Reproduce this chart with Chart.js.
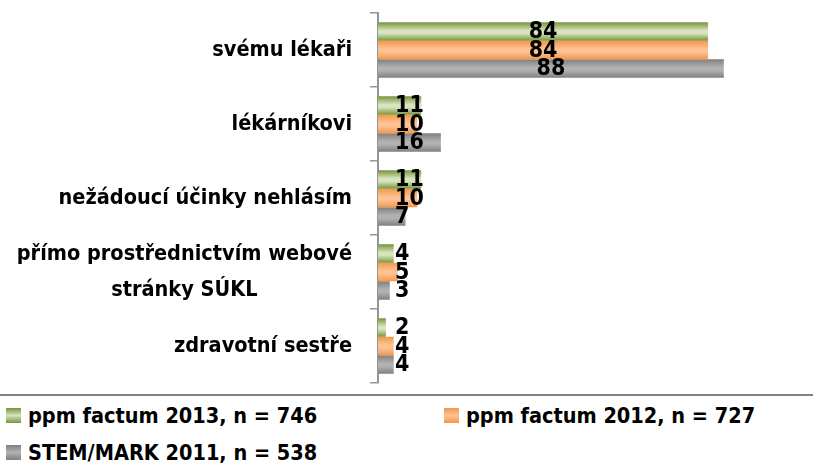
<!DOCTYPE html>
<html>
<head>
<meta charset="utf-8">
<script src="https://cdn.jsdelivr.net/npm/chart.js@4/dist/chart.umd.min.js"></script>
<style>
    body { margin: 0; background: #fff; }
    #wrap { width: 813px; height: 464px; position: relative; overflow: hidden; }
    #chartBox { width: 813px; height: 394px; position: relative; }
    #legend {
        border-top: 2px solid #7f7f7f;
        display: grid;
        grid-template-columns: 438px auto;
        row-gap: 13px;
        padding: 7px 0 0 6px;
        font-family: 'DejaVu Sans Condensed', 'DejaVu Sans', sans-serif;
        font-weight: bold;
        font-size: 21.5px;
        color: #000;
    }
    .item { display: flex; align-items: center; height: 24px; white-space: nowrap; }
    .swatch { width: 15px; height: 15px; margin-right: 7px; }
</style>
</head>
<body>
<div id="wrap">
    <div id="chartBox"><canvas id="chart"></canvas></div>
    <div id="legend"></div>
</div>
<script>
const categories = [
    ['svému lékaři'],
    ['lékárníkovi'],
    ['nežádoucí účinky nehlásím'],
    ['přímo prostřednictvím webové', 'stránky SÚKL'],
    ['zdravotní sestře']
];
const seriesNames = ['ppm factum 2013, n = 746', 'ppm factum 2012, n = 727', 'STEM/MARK 2011, n = 538'];
const values2013 = [84, 11, 11, 4, 2];
const values2012 = [84, 10, 10, 5, 4];
const values2011 = [88, 16, 7, 3, 4];

const labelFont = "bold 21.5px 'DejaVu Sans Condensed', 'DejaVu Sans', sans-serif";
const valueFont = "bold 23px 'DejaVu Sans Condensed', 'DejaVu Sans', sans-serif";

// edge / middle colours of the bar gradients
const fills = [
    ['#77933c', '#d7e4bd'],
    ['#f79646', '#fbc396'],
    ['#7f7f7f', '#b2b2b2']
];

function barGradient(ctx, top, height, pair) {
    const g = ctx.createLinearGradient(0, top, 0, top + height);
    g.addColorStop(0, pair[0]);
    g.addColorStop(0.45, pair[1]);
    g.addColorStop(0.6, pair[1]);
    g.addColorStop(1, pair[0]);
    return g;
}

// bars share one options object, so give each bar its own with its gradient
const gradientBars = {
    id: 'gradientBars',
    beforeDatasetsDraw(chart) {
        const ctx = chart.ctx;
        chart.data.datasets.forEach((ds, i) => {
            chart.getDatasetMeta(i).data.forEach(el => {
                const g = barGradient(ctx, el.y - el.height / 2, el.height, fills[i]);
                el.options = Object.assign({}, el.options, { backgroundColor: g });
            });
        });
    }
};

const valueLabels = {
    id: 'valueLabels',
    afterDatasetsDraw(chart) {
        const ctx = chart.ctx;
        ctx.save();
        ctx.font = valueFont;
        ctx.fillStyle = '#000';
        ctx.textBaseline = 'middle';
        ctx.textAlign = 'left';
        chart.data.datasets.forEach((ds, i) => {
            chart.getDatasetMeta(i).data.forEach((el, j) => {
                const text = String(ds.data[j]);
                const w = ctx.measureText(text).width;
                const left = Math.max((el.base + el.x) / 2 - w / 2, el.base + 17);
                ctx.fillText(text, left, el.y + 1);
            });
        });
        ctx.restore();
    }
};

// category labels: block right aligned, lines centred inside the block
const categoryLabels = {
    id: 'categoryLabels',
    afterDraw(chart) {
        const ctx = chart.ctx;
        const scale = chart.scales.y;
        const right = chart.chartArea.left - 26;
        const lineH = 36;
        ctx.save();
        ctx.font = labelFont;
        ctx.fillStyle = '#000';
        ctx.textBaseline = 'middle';
        ctx.textAlign = 'center';
        categories.forEach((lines, i) => {
            const y = scale.getPixelForTick(i);
            const widest = Math.max(...lines.map(l => ctx.measureText(l).width));
            const cx = right - widest / 2;
            const y0 = y - (lines.length - 1) * lineH / 2;
            lines.forEach((l, k) => ctx.fillText(l, cx, y0 + k * lineH));
        });
        ctx.restore();
    }
};

const chart = new Chart(document.getElementById('chart'), {
    type: 'bar',
    data: {
        labels: categories.map(c => c.join(' ')),
        datasets: [
            { label: seriesNames[0], data: values2013, backgroundColor: fills[0][0] },
            { label: seriesNames[1], data: values2012, backgroundColor: fills[1][0] },
            { label: seriesNames[2], data: values2011, backgroundColor: fills[2][0] }
        ]
    },
    options: {
        indexAxis: 'y',
        responsive: true,
        maintainAspectRatio: false,
        animation: false,
        datasets: {
            bar: { barPercentage: 1, categoryPercentage: 0.75, borderWidth: 0 }
        },
        layout: { padding: { top: 13, right: 42, bottom: 11, left: 0 } },
        scales: {
            x: { display: false, min: 0, max: 100 },
            y: {
                afterFit(scale) { scale.width = 378; },
                ticks: { display: false },
                grid: { drawOnChartArea: false, tickLength: 8, color: '#969696', lineWidth: 1.5, offset: true },
                border: { color: '#969696', width: 2 }
            }
        },
        plugins: {
            legend: { display: false },
            tooltip: { enabled: false }
        }
    },
    plugins: [gradientBars, valueLabels, categoryLabels]
});

// html legend built from the chart's datasets
const legendEl = document.getElementById('legend');
chart.data.datasets.forEach((ds, i) => {
    const item = document.createElement('div');
    item.className = 'item';
    const sw = document.createElement('span');
    sw.className = 'swatch';
    sw.style.background = `linear-gradient(to bottom, ${fills[i][0]}, ${fills[i][1]} 50%, ${fills[i][0]})`;
    const txt = document.createElement('span');
    txt.textContent = ds.label;
    item.appendChild(sw);
    item.appendChild(txt);
    legendEl.appendChild(item);
});
</script>
</body>
</html>
